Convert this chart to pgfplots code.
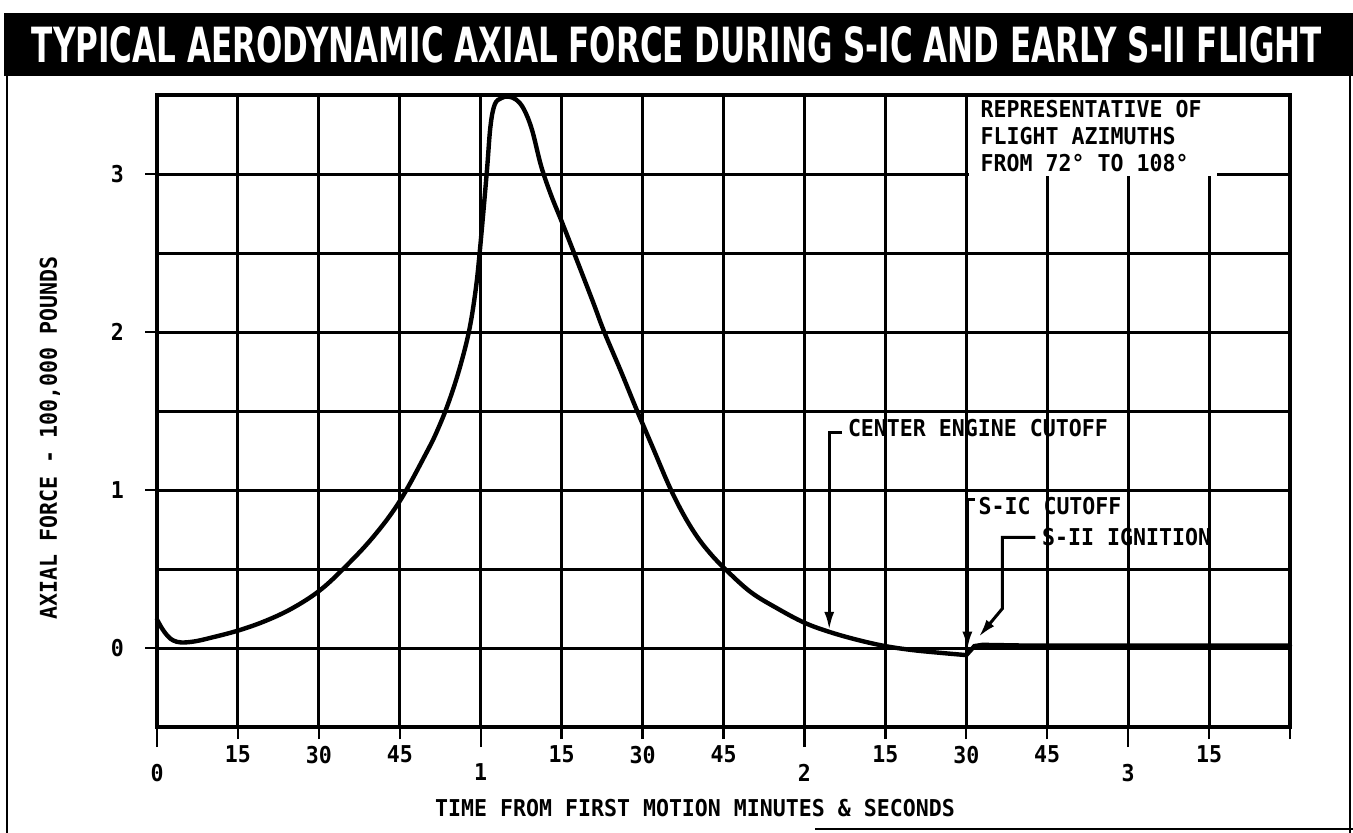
\documentclass[border=0pt]{standalone}
\usepackage{fontspec}
\usepackage{graphicx}
\usepackage{pgfplots}
\pgfplotsset{compat=1.18}
\usetikzlibrary{arrows.meta}
\setmainfont{DejaVu Sans}
\newfontfamily\lbl[FakeStretch=0.93]{DejaVu Sans Mono}
\newcommand\lblsize{\lbl\bfseries\fontsize{11.6}{13.5}\selectfont}

\begin{document}
\begin{tikzpicture}
\useasboundingbox (0pt,0pt) rectangle (676.5pt,-416.5pt);
% title bar
\fill[black] (2pt,-6.5pt) rectangle (676.5pt,-38pt);
\node[white,inner sep=0pt] at (338.5pt,-22.5pt)
  {\resizebox{645pt}{18pt}{\bfseries TYPICAL AERODYNAMIC AXIAL FORCE DURING S-IC AND EARLY S-II FLIGHT}};
% frame
\draw[line width=1pt] (3.5pt,-38pt) -- (3.5pt,-416.5pt);
\draw[line width=1pt] (675pt,-38pt) -- (675pt,-416.5pt);
\draw[line width=1pt] (407.5pt,-414.5pt) -- (676.5pt,-414.5pt);

\begin{axis}[
  at={(78.5pt,-363.5pt)}, anchor=south west,
  scale only axis, width=566.5pt, height=316pt,
  clip=false,
  xmin=0, xmax=210, ymin=-0.5, ymax=3.5,
  xtick={15,30,45,75,90,105,135,150,165,195,210},
  xticklabels={15,30,45,15,30,45,15,30,45,15,{}},
  extra x ticks={0,60,120,180},
  extra x tick labels={0,1,2,3},
  extra x tick style={grid=major, major tick length=10pt,
    tick label style={yshift=-5pt}},
  ytick={0,1,2,3}, yticklabels={0,1,2,3},
  minor ytick={-0.5,0.5,1.5,2.5},
  grid=both,
  major grid style={line width=1.5pt,black},
  minor grid style={line width=1.5pt,black},
  tick align=outside, xtick pos=bottom, ytick pos=left,
  major tick length=6pt, minor tick length=0pt,
  tick style={line width=1.2pt,black},
  axis line style={line width=2.2pt},
  ticklabel style={font=\lblsize},
  yticklabel style={xshift=-7pt},
  /pgf/number format/assume math mode=true,
]
\addplot[line width=2.2pt, black, smooth, tension=0.6, line cap=round] coordinates {
  (0,0.18) (1,0.12) (2,0.075) (3,0.048) (4.5,0.035) (7,0.042) (10,0.065)
  (15,0.11) (20,0.17) (25,0.25) (30,0.36) (34.5,0.5) (40,0.7) (45,0.93)
  (50,1.24) (52,1.38) (54,1.55) (56,1.76) (57.8,2.0) (59,2.25) (59.8,2.5)
  (61.1,3.0) (61.8,3.3) (62.6,3.44) (63.8,3.48) (65.1,3.49) (66.6,3.47)
  (68,3.41) (69.5,3.28) (71.2,3.05) (73,2.87) (75,2.7) (77.3,2.5) (80.7,2.2)
  (82.9,2.0) (86,1.75) (89,1.5) (92,1.26) (95,1.02) (97.5,0.85) (100,0.71)
  (102.5,0.6) (105.3,0.5) (110,0.355) (115,0.25) (120,0.16) (124.8,0.1)
  (130,0.05) (135,0.012) (140,-0.013) (145,-0.03) (150,-0.045)
};
\addplot[line width=2.2pt, black, sharp plot, line cap=round] coordinates {
  (150,-0.045) (151.5,0.012) (153,0.02) (160,0.016) (210,0.016)
};
% blank box behind the note
\fill[white] (axis cs:150.45,2.985) rectangle (axis cs:209.6,3.485);
\draw[line width=1.5pt] (axis cs:196.5,3) -- (axis cs:210,3);
\node[anchor=north west, align=left, inner sep=0pt, font=\lblsize]
  at (axis cs:152.6,3.47) {REPRESENTATIVE OF\\FLIGHT AZIMUTHS\\FROM 72° TO 108°};
% event arrows
\draw[line width=1.5pt, -{Latex[length=9pt,width=5pt]}]
  (axis cs:127,1.365) -- (axis cs:124.6,1.365) -- (axis cs:124.6,0.115);
\node[anchor=west, inner sep=0pt, font=\lblsize] at (axis cs:128,1.39) {CENTER ENGINE CUTOFF};
\draw[line width=1.5pt, -{Latex[length=9pt,width=5pt]}]
  (axis cs:151.6,0.94) -- (axis cs:150.2,0.94) -- (axis cs:150.2,-0.01);
\node[anchor=west, inner sep=0pt, font=\lblsize] at (axis cs:152.2,0.90) {S-IC CUTOFF};
\draw[line width=1.5pt, -{Latex[length=9pt,width=5pt]}]
  (axis cs:162.8,0.70) -- (axis cs:156.7,0.70) -- (axis cs:156.7,0.25) -- (axis cs:152.3,0.07);
\node[anchor=west, inner sep=0pt, font=\lblsize] at (axis cs:164,0.70) {S-II IGNITION};
\end{axis}

\node[rotate=90, font=\lblsize] at (25pt,-219pt) {AXIAL FORCE - 100,000 POUNDS};
\node[font=\lblsize] at (347.5pt,-404pt) {TIME FROM FIRST MOTION MINUTES \& SECONDS};
\end{tikzpicture}
\end{document}
